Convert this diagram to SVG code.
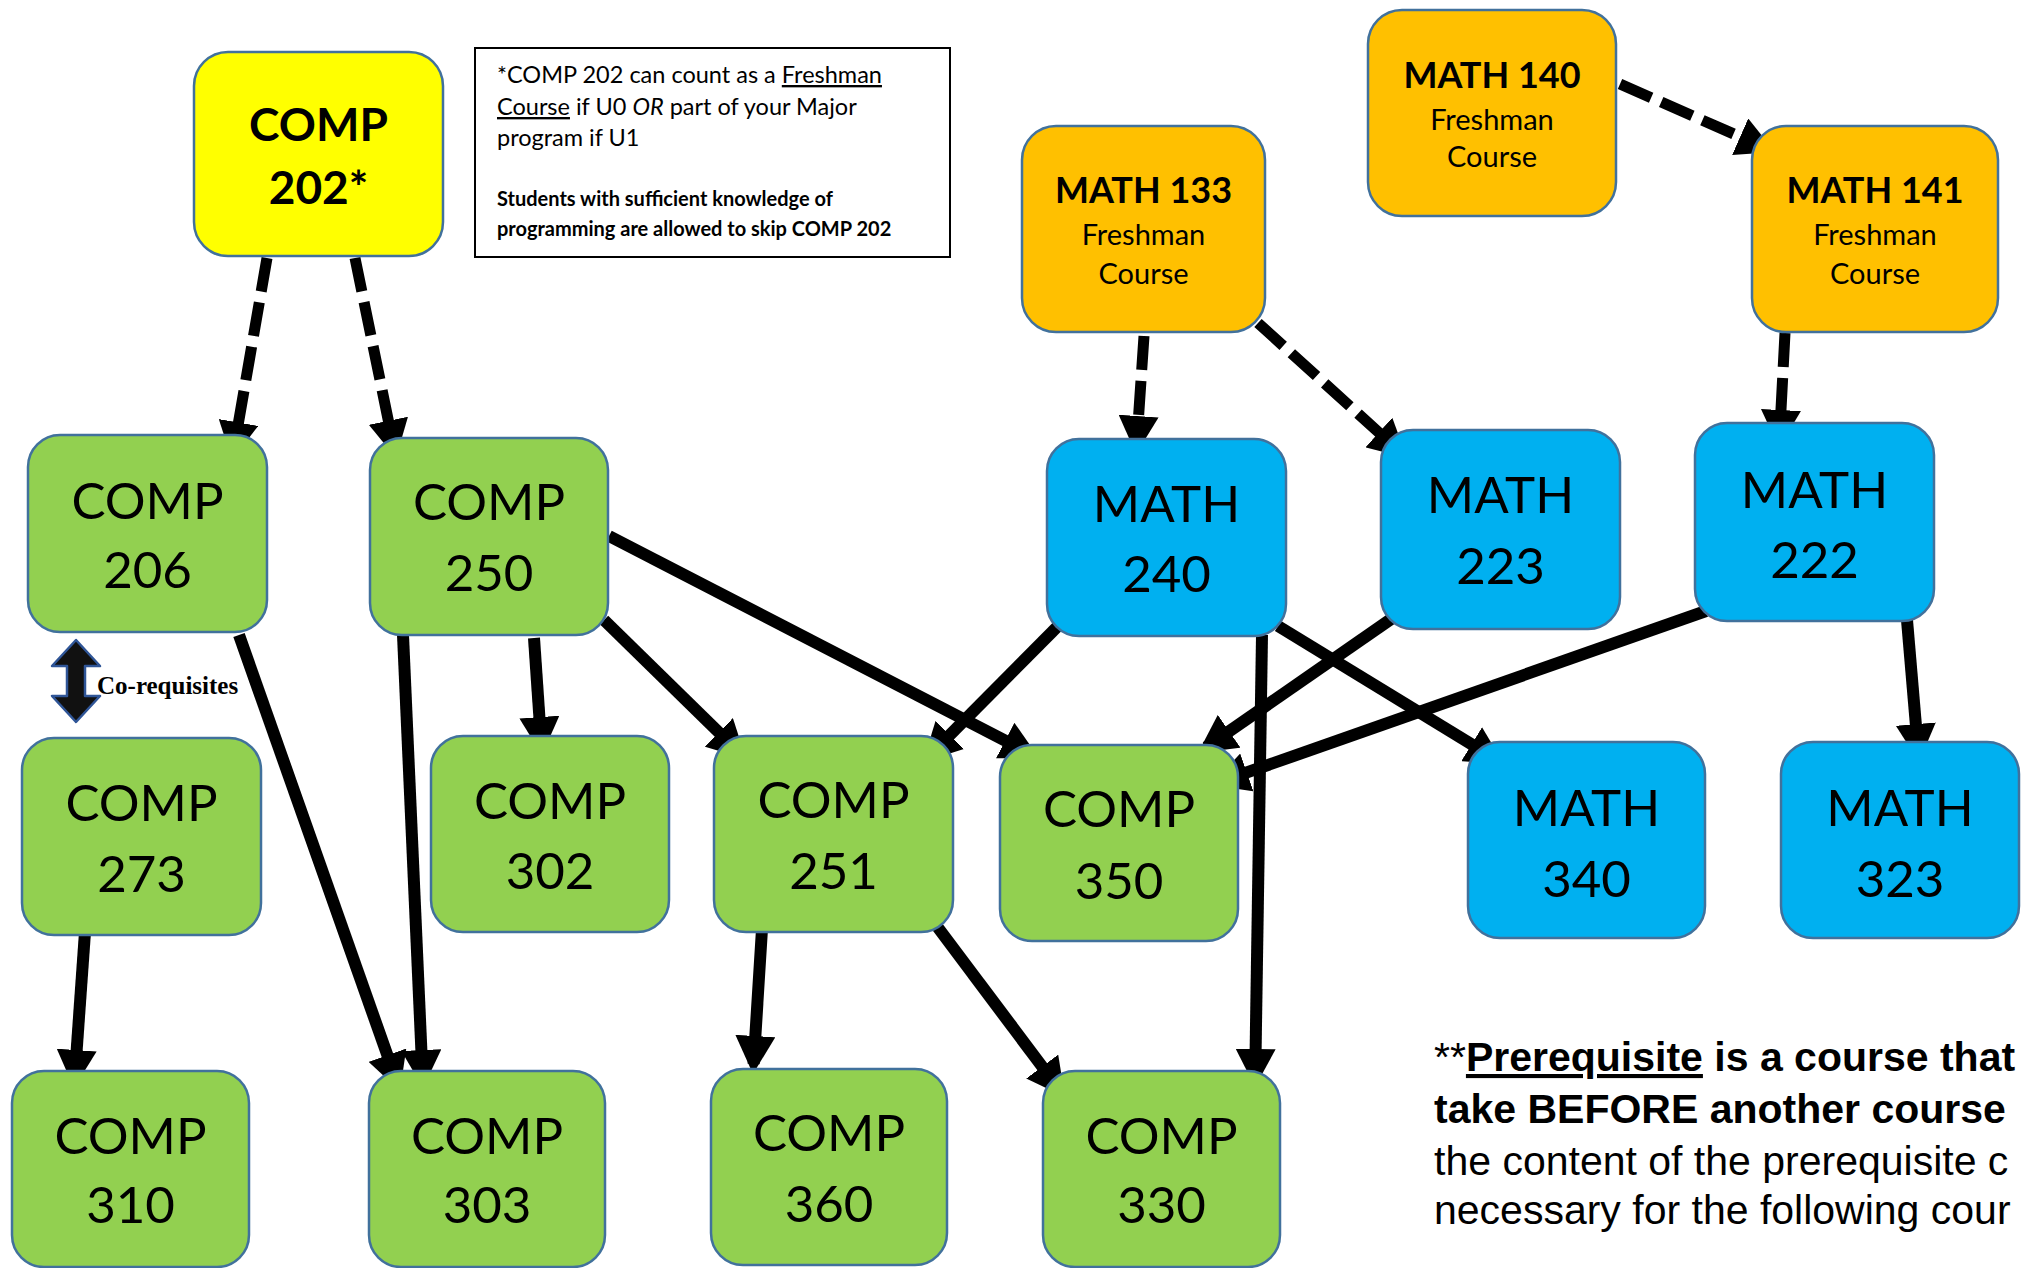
<svg xmlns="http://www.w3.org/2000/svg" width="2024" height="1268" viewBox="0 0 2024 1268">
<style>
.n{stroke:#41719C;stroke-width:2.5}
.g{fill:#92D050}.b{fill:#00B0F0}.o{fill:#FFC000}.y{fill:#FFFF00}
.lbl{font-family:Lato,"Open Sans",sans-serif;font-size:51px;fill:#000;text-anchor:middle}
.hd{font-family:Lato,"Open Sans",sans-serif;font-weight:bold;fill:#000;text-anchor:middle}
.fr{font-family:Lato,"Open Sans",sans-serif;font-size:29px;fill:#000;text-anchor:middle}
.e{stroke:#000;stroke-width:12;fill:none}
.d{stroke-width:11;stroke-dasharray:34 11}
.note{font-family:Lato,"Open Sans",sans-serif;fill:#000}
.pr{font-family:"Liberation Sans",Arial,sans-serif;font-size:41px;fill:#000}
</style>
<defs>
<marker id="ah" viewBox="0 0 38 40" refX="28" refY="20" markerWidth="38" markerHeight="40" markerUnits="userSpaceOnUse" orient="auto">
<path d="M0,0 L38,20 L0,40 z" fill="#000"/>
</marker>
</defs>
<rect width="2024" height="1268" fill="#fff"/>

<g id="connectors" marker-end="url(#ah)">
<line class="e d" x1="267" y1="258" x2="233.7" y2="450.1"/>
<line class="e d" x1="355" y1="258" x2="394" y2="448.2"/>
<line class="e d" x1="1144" y1="336" x2="1136.7" y2="444"/>
<line class="e d" x1="1258" y1="323" x2="1399.6" y2="451.3"/>
<line class="e d" x1="1620" y1="84" x2="1765.8" y2="148"/>
<line class="e d" x1="1785" y1="333" x2="1779.5" y2="438"/>
<line class="e" x1="239" y1="635" x2="396.7" y2="1081.6"/>
<line class="e" x1="403" y1="635" x2="422.6" y2="1078"/>
<line class="e" x1="534" y1="638" x2="541.3" y2="745"/>
<line class="e" x1="604" y1="620" x2="738.9" y2="752"/>
<line class="e" x1="609" y1="536" x2="1030.1" y2="753.4"/>
<line class="e" x1="85" y1="932" x2="74.7" y2="1078"/>
<line class="e" x1="762" y1="929" x2="753.6" y2="1064"/>
<line class="e" x1="936" y1="925" x2="1059" y2="1089"/>
<line class="e" x1="1058" y1="626" x2="930" y2="754.9"/>
<line class="e" x1="1262" y1="635" x2="1255.2" y2="1077"/>
<line class="e" x1="1278" y1="626" x2="1495.5" y2="758.8"/>
<line class="e" x1="1394" y1="617" x2="1206.2" y2="747.3"/>
<line class="e" x1="1706" y1="611" x2="1220.4" y2="781.7"/>
<line class="e" x1="1907" y1="620" x2="1918.2" y2="752"/>
</g>

<g id="comp202">
<rect class="n y" x="194" y="52" width="249" height="204" rx="34"/>
<text class="hd" x="318.5" y="141" font-size="46">COMP</text>
<text class="hd" x="318.5" y="204" font-size="46">202*</text>
</g>

<g id="note">
<rect x="475" y="48" width="475" height="209" fill="#fff" stroke="#000" stroke-width="2"/>
<text class="note" x="497" y="83" font-size="23.5">*COMP 202 can count as a <tspan text-decoration="underline">Freshman</tspan></text>
<text class="note" x="497" y="115" font-size="23.5"><tspan text-decoration="underline">Course</tspan> if U0 <tspan font-style="italic">OR</tspan> part of your Major</text>
<text class="note" x="497" y="146" font-size="23.5">program if U1</text>
<text class="note" x="497" y="206" font-size="20" font-weight="bold">Students with sufficient knowledge of</text>
<text class="note" x="497" y="236" font-size="20" font-weight="bold">programming are allowed to skip COMP 202</text>
</g>

<g id="math140">
<rect class="n o" x="1368" y="10" width="248" height="206" rx="34"/>
<text class="hd" x="1492" y="88" font-size="36">MATH 140</text>
<text class="fr" x="1492" y="130">Freshman</text>
<text class="fr" x="1492" y="167">Course</text>
</g>
<g id="math133">
<rect class="n o" x="1022" y="126" width="243" height="206" rx="34"/>
<text class="hd" x="1143.5" y="203" font-size="36">MATH 133</text>
<text class="fr" x="1143.5" y="245">Freshman</text>
<text class="fr" x="1143.5" y="284">Course</text>
</g>
<g id="math141">
<rect class="n o" x="1752" y="126" width="246" height="206" rx="34"/>
<text class="hd" x="1875" y="203" font-size="36">MATH 141</text>
<text class="fr" x="1875" y="245">Freshman</text>
<text class="fr" x="1875" y="284">Course</text>
</g>

<g id="comp206">
<rect class="n g" x="28" y="435" width="239" height="197" rx="32"/>
<text class="lbl" x="147.5" y="519">COMP</text><text class="lbl" x="147.5" y="588">206</text>
</g>
<g id="comp250">
<rect class="n g" x="370" y="438" width="238" height="197" rx="32"/>
<text class="lbl" x="489" y="520">COMP</text><text class="lbl" x="489" y="591">250</text>
</g>
<g id="math240">
<rect class="n b" x="1047" y="439" width="239" height="197" rx="32"/>
<text class="lbl" x="1166.5" y="522">MATH</text><text class="lbl" x="1166.5" y="592">240</text>
</g>
<g id="math223">
<rect class="n b" x="1381" y="430" width="239" height="199" rx="32"/>
<text class="lbl" x="1500.5" y="513">MATH</text><text class="lbl" x="1500.5" y="584">223</text>
</g>
<g id="math222">
<rect class="n b" x="1695" y="423" width="239" height="198" rx="32"/>
<text class="lbl" x="1814.5" y="508">MATH</text><text class="lbl" x="1814.5" y="578">222</text>
</g>
<g id="comp273">
<rect class="n g" x="22" y="738" width="239" height="197" rx="32"/>
<text class="lbl" x="141.5" y="821">COMP</text><text class="lbl" x="141.5" y="892">273</text>
</g>
<g id="comp302">
<rect class="n g" x="431" y="736" width="238" height="196" rx="32"/>
<text class="lbl" x="550" y="819">COMP</text><text class="lbl" x="550" y="889">302</text>
</g>
<g id="comp251">
<rect class="n g" x="714" y="736" width="239" height="196" rx="32"/>
<text class="lbl" x="833.5" y="818">COMP</text><text class="lbl" x="833.5" y="889">251</text>
</g>
<g id="comp350">
<rect class="n g" x="1000" y="745" width="238" height="196" rx="32"/>
<text class="lbl" x="1119" y="827">COMP</text><text class="lbl" x="1119" y="899">350</text>
</g>
<g id="math340">
<rect class="n b" x="1468" y="742" width="237" height="196" rx="32"/>
<text class="lbl" x="1586.5" y="826">MATH</text><text class="lbl" x="1586.5" y="897">340</text>
</g>
<g id="math323">
<rect class="n b" x="1781" y="742" width="238" height="196" rx="32"/>
<text class="lbl" x="1900" y="826">MATH</text><text class="lbl" x="1900" y="897">323</text>
</g>
<g id="comp310">
<rect class="n g" x="12" y="1071" width="237" height="196" rx="32"/>
<text class="lbl" x="130.5" y="1154">COMP</text><text class="lbl" x="130.5" y="1223">310</text>
</g>
<g id="comp303">
<rect class="n g" x="369" y="1071" width="236" height="196" rx="32"/>
<text class="lbl" x="487" y="1154">COMP</text><text class="lbl" x="487" y="1223">303</text>
</g>
<g id="comp360">
<rect class="n g" x="711" y="1069" width="236" height="196" rx="32"/>
<text class="lbl" x="829" y="1151">COMP</text><text class="lbl" x="829" y="1222">360</text>
</g>
<g id="comp330">
<rect class="n g" x="1043" y="1071" width="237" height="196" rx="32"/>
<text class="lbl" x="1161.5" y="1154">COMP</text><text class="lbl" x="1161.5" y="1223">330</text>
</g>

<g id="coreq">
<polygon points="76,640 100,666 85,666 85,696 100,696 76,722 52,696 67,696 67,666 52,666" fill="#111" stroke="#2F5597" stroke-width="2.5" stroke-linejoin="round"/>
<text x="97" y="694" font-family="'Liberation Serif',serif" font-size="25" font-weight="bold" fill="#000">Co-requisites</text>
</g>

<g id="definition">
<text class="pr" x="1434" y="1071">**<tspan font-weight="bold" text-decoration="underline">Prerequisite</tspan><tspan font-weight="bold"> is a course that</tspan></text>
<text class="pr" x="1434" y="1123" font-weight="bold">take BEFORE another course</text>
<text class="pr" x="1434" y="1175">the content of the prerequisite c</text>
<text class="pr" x="1434" y="1224">necessary for the following cour</text>
</g>
</svg>
